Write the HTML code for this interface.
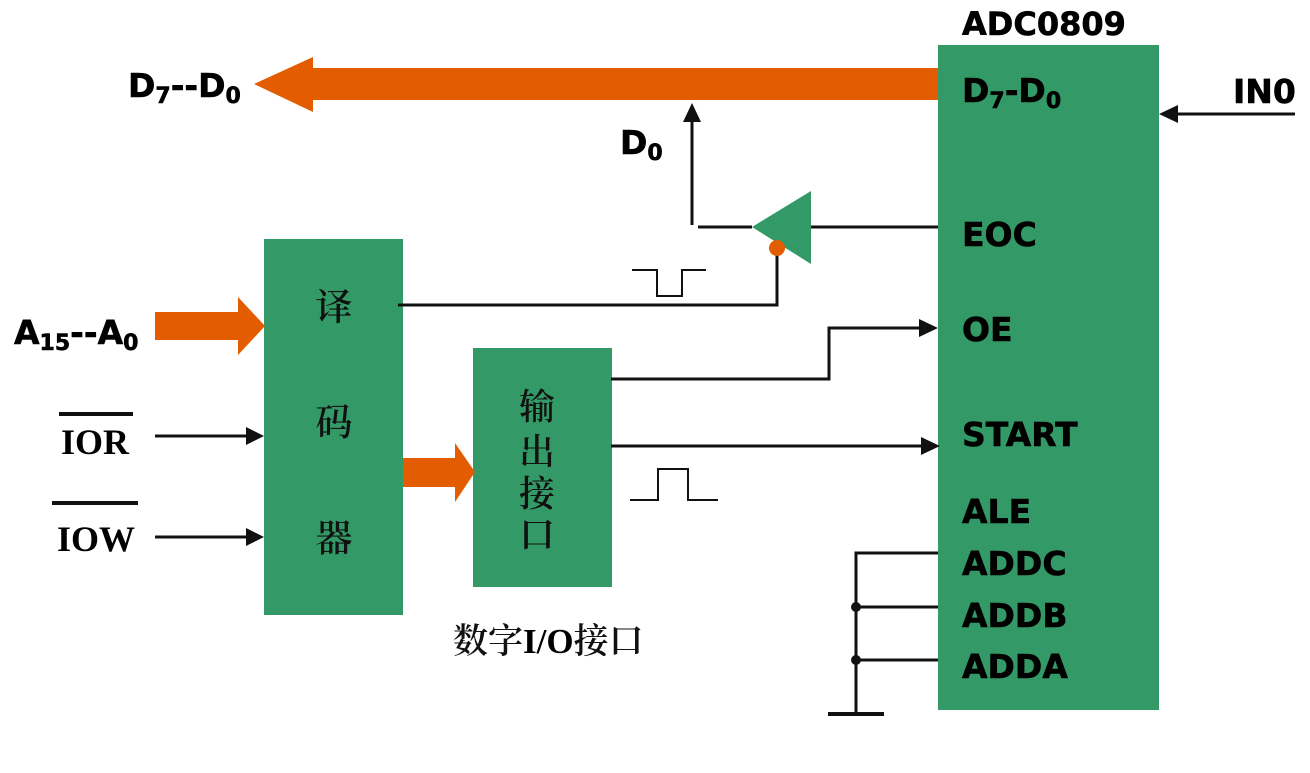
<!DOCTYPE html>
<html><head><meta charset="utf-8"><style>
html,body{margin:0;padding:0;background:#fff;}
svg{display:block}
.b{font-family:"DejaVu Sans","Liberation Sans",sans-serif;font-weight:bold;fill:#000;stroke:#000;stroke-width:0.6}
.c{font-family:"Noto Serif CJK SC","Liberation Serif",serif;fill:#111;font-weight:600}
.s{font-family:"Liberation Serif","Noto Serif CJK SC",serif;font-weight:bold;fill:#000}
</style></head><body>
<svg width="1310" height="773" viewBox="0 0 1310 773" xmlns="http://www.w3.org/2000/svg">
<rect x="938" y="45" width="221" height="665" fill="#339966"/>
<rect x="264" y="239" width="139" height="376" fill="#339966"/>
<rect x="473" y="348" width="139" height="239" fill="#339966"/>
<polygon points="254,84 313,57 313,68 938,68 938,100 313,100 313,112" fill="#e35d00"/>
<polygon points="155,312 238,312 238,297 265,326 238,355 238,340 155,340" fill="#e35d00"/>
<polygon points="403,458 455,458 455,443 475,472 455,502 455,487 403,487" fill="#e35d00"/>
<g stroke="#111" stroke-width="3" fill="none">
<line x1="155" y1="436" x2="250" y2="436"/>
<line x1="155" y1="537" x2="250" y2="537"/>
<line x1="1295" y1="114" x2="1174" y2="114"/>
<polyline points="611,379 829,379 829,328 922,328"/>
<line x1="611" y1="446" x2="922" y2="446"/>
<polyline points="398,305 777,305 777,254"/>
<line x1="692" y1="225" x2="692" y2="118"/>
<line x1="698" y1="227" x2="752" y2="227"/>
<line x1="811" y1="227" x2="938" y2="227"/>
<polyline points="856,714 856,553 938,553"/>
<line x1="856" y1="607" x2="938" y2="607"/>
<line x1="856" y1="660" x2="938" y2="660"/>
<line x1="828" y1="714" x2="884" y2="714" stroke-width="4"/>
<line x1="59" y1="414" x2="133" y2="414" stroke-width="4"/>
<line x1="52" y1="503" x2="138" y2="503" stroke-width="4"/>
</g>
<g stroke="#111" stroke-width="2" fill="none">
<polyline points="630,500 658,500 658,469 688,469 688,500 718,500"/>
<polyline points="632,270 657,270 657,296 682,296 682,270 706,270"/>
</g>
<g fill="#111">
<polygon points="264,436 246,427 246,445"/>
<polygon points="264,537 246,528 246,546"/>
<polygon points="1159,114 1178,105 1178,123"/>
<polygon points="938,328 919,319 919,337"/>
<polygon points="940,446 921,437 921,455"/>
<polygon points="692,103 683,122 701,122"/>
<circle cx="856" cy="607" r="5"/>
<circle cx="856" cy="660" r="5"/>
</g>
<polygon points="752,227 811,191 811,264" fill="#339966"/>
<circle cx="777" cy="248" r="8" fill="#e35d00"/>
<text class="b" x="962" y="35" font-size="32">ADC0809</text>
<text class="b" x="962" y="102" font-size="33">D<tspan font-size="22" dy="6">7</tspan><tspan dy="-6">-D</tspan><tspan font-size="22" dy="6">0</tspan></text>
<text class="b" x="1233" y="103" font-size="33">IN0</text>
<text class="b" x="128" y="97" font-size="33">D<tspan font-size="22" dy="6">7</tspan><tspan dy="-6">--D</tspan><tspan font-size="22" dy="6">0</tspan></text>
<text class="b" x="620" y="154" font-size="33">D<tspan font-size="22" dy="6">0</tspan></text>
<text class="b" x="14" y="344" font-size="33">A<tspan font-size="22" dy="6">15</tspan><tspan dy="-6">--A</tspan><tspan font-size="22" dy="6">0</tspan></text>
<text class="b" x="962" y="246" font-size="33">EOC</text>
<text class="b" x="962" y="341" font-size="33">OE</text>
<text class="b" x="962" y="446" font-size="33">START</text>
<text class="b" x="962" y="523" font-size="33">ALE</text>
<text class="b" x="962" y="575" font-size="33">ADDC</text>
<text class="b" x="962" y="627" font-size="33">ADDB</text>
<text class="b" x="962" y="678" font-size="33">ADDA</text>
<text class="s" x="61" y="454" font-size="36">IOR</text>
<text class="s" x="57" y="551" font-size="36">IOW</text>
<g class="c" font-size="37" text-anchor="middle">
<text x="334" y="320">译</text>
<text x="334" y="435">码</text>
<text x="334" y="551">器</text>
</g>
<g class="c" font-size="36" text-anchor="middle">
<text x="537" y="419">输</text>
<text x="537" y="464">出</text>
<text x="537" y="506">接</text>
<text x="537" y="547">口</text>
</g>
<text class="c" x="453" y="653" font-size="35">数字<tspan class="s" font-weight="bold">I/O</tspan>接口</text>
</svg>
</body></html>
